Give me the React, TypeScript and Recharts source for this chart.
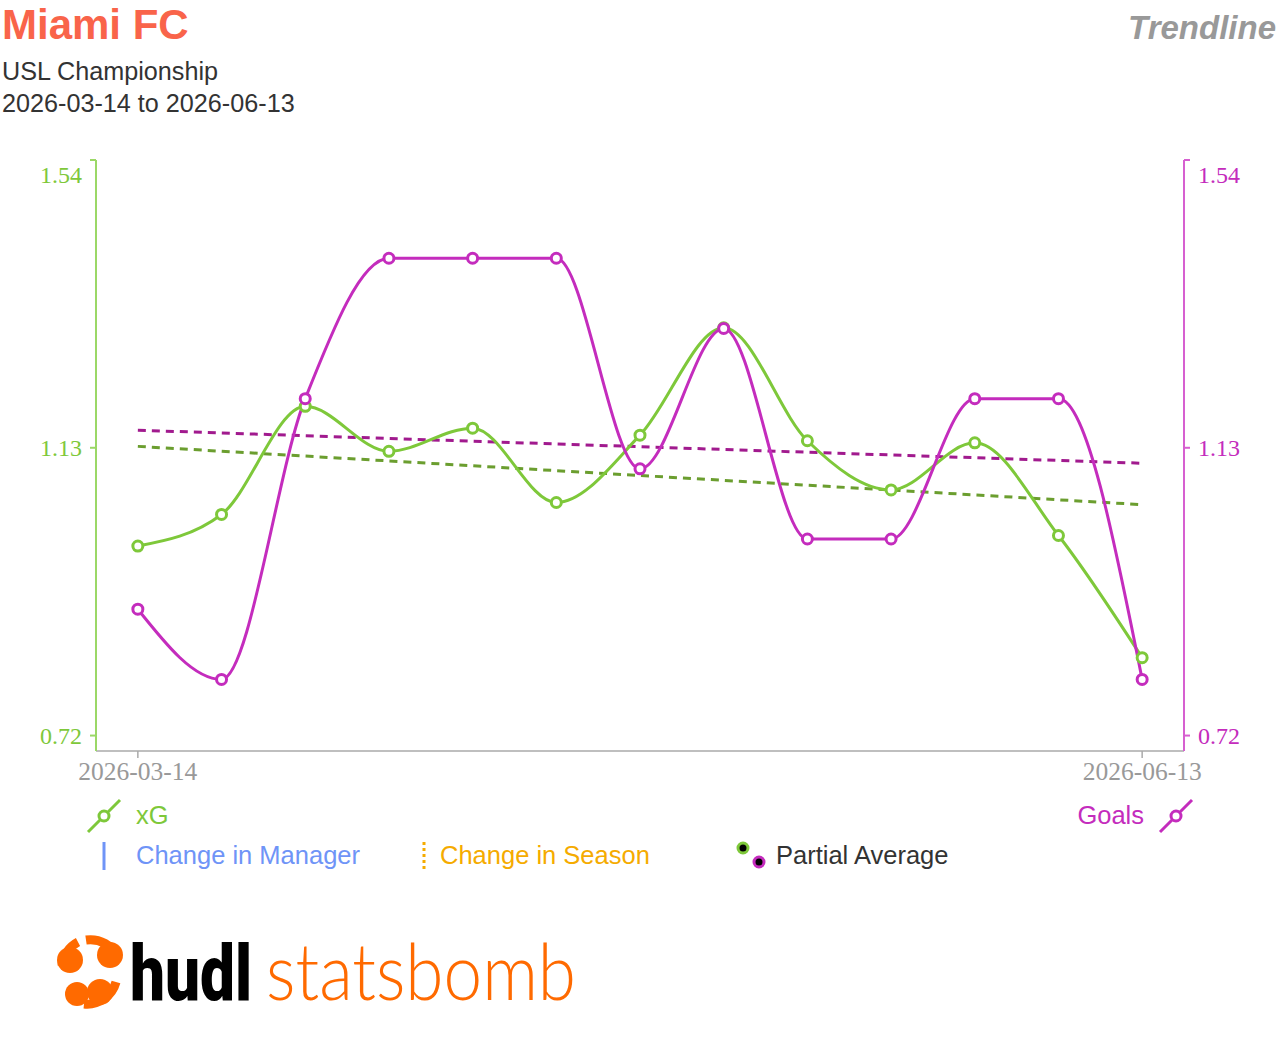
import React from 'react';
import { LineChart, Line, XAxis, YAxis } from 'recharts';

const MATCH_INDEX = [0, 1, 2, 3, 4, 5, 6, 7, 8, 9, 10, 11, 12];
const XG = [0.99, 1.035, 1.189, 1.125, 1.158, 1.052, 1.148, 1.301, 1.14, 1.07, 1.137, 1.005, 0.831];
const GOALS = [0.9, 0.8, 1.2, 1.4, 1.4, 1.4, 1.1, 1.3, 1.0, 1.0, 1.2, 1.2, 0.8];

const TREND_X = [0, 12];
const XG_TREND = [1.132, 1.049];
const GOALS_TREND = [1.155, 1.108];

const X_TICKS = [0, 12];
const X_LABELS = ['2026-03-14', '2026-06-13'];
const Y_TICKS = [0.72, 1.13, 1.54];

const GREEN = '#7ec83a';
const GREEN_TREND = '#6b9e2f';
const MAGENTA = '#c42cbd';
const MAGENTA_TREND = '#a11a8e';

const data = MATCH_INDEX.map((i, k) => ({ i, xg: XG[k], goals: GOALS[k] }));
const xgTrend = TREND_X.map((i, k) => ({ i, v: XG_TREND[k] }));
const goalsTrend = TREND_X.map((i, k) => ({ i, v: GOALS_TREND[k] }));

const serif = '"Liberation Serif", "Times New Roman", serif';
const sans = '"Liberation Sans", Arial, Helvetica, sans-serif';

const YTick = (props: any) => {
  const { x, y, payload, textAnchor, color } = props;
  // top label sits inside the frame, like the original
  const shift = payload.value === 1.54 ? 14 : 0;
  return (
    <text x={x} y={y + shift} dy="0.355em" textAnchor={textAnchor} fill={color}
      fontFamily={serif} fontSize={24}>
      {payload.value.toFixed(2)}
    </text>
  );
};

const LegendLineIcon = ({ x, y, color }: { x: number; y: number; color: string }) => (
  <svg style={{ position: 'absolute', left: x - 18, top: y - 18 }} width={36} height={36}>
    <line x1={2} y1={34} x2={34} y2={2} stroke={color} strokeWidth={3} />
    <circle cx={18} cy={18} r={5} fill="#fff" stroke={color} strokeWidth={3} />
  </svg>
);

const legendText = (color: string): React.CSSProperties => ({
  position: 'absolute', fontSize: 25.5, color, lineHeight: '30px', whiteSpace: 'nowrap',
});

export default function App() {
  return (
    <div style={{ position: 'absolute', left: 0, top: 0, width: 1280, height: 1040, background: '#fff', fontFamily: sans, overflow: 'hidden' }}>
      <div style={{ position: 'absolute', left: 2, top: 1, fontSize: 42, fontWeight: 700, color: '#f9644a', lineHeight: '48px', whiteSpace: 'nowrap' }}>
        Miami FC
      </div>
      <div style={{ position: 'absolute', right: 4, top: 8, fontSize: 33, fontWeight: 700, fontStyle: 'italic', color: '#999', lineHeight: '40px', whiteSpace: 'nowrap' }}>
        Trendline
      </div>
      <div style={{ position: 'absolute', left: 2, top: 55, fontSize: 25.2, color: '#333', lineHeight: '32px', whiteSpace: 'nowrap' }}>
        USL Championship
        <br />
        2026-03-14 to 2026-06-13
      </div>

      <div style={{ position: 'absolute', left: 0, top: 0 }}>
        <LineChart width={1280} height={800} data={data} margin={{ top: 160, right: 0, bottom: 0, left: 0 }}>
          <XAxis
            dataKey="i"
            type="number"
            domain={[-0.5, 12.5]}
            ticks={X_TICKS}
            tickFormatter={(v: number) => X_LABELS[X_TICKS.indexOf(v)]}
            height={49}
            axisLine={{ stroke: '#aaa', strokeWidth: 1.5 }}
            tickLine={{ stroke: '#aaa', strokeWidth: 1.5 }}
            tickSize={7}
            tickMargin={4}
            tick={{ fill: '#999', fontFamily: serif, fontSize: 25.5 }}
            allowDataOverflow
          />
          <YAxis
            yAxisId="left"
            orientation="left"
            width={96}
            domain={[0.698, 1.54]}
            ticks={Y_TICKS}
            allowDataOverflow
            axisLine={{ stroke: '#9bd867', strokeWidth: 2 }}
            tickLine={{ stroke: '#9bd867', strokeWidth: 2 }}
            tickSize={6}
            tickMargin={8}
            tick={<YTick color={GREEN} />}
          />
          <YAxis
            yAxisId="right"
            orientation="right"
            width={96}
            domain={[0.698, 1.54]}
            ticks={Y_TICKS}
            allowDataOverflow
            axisLine={{ stroke: '#d660d0', strokeWidth: 2 }}
            tickLine={{ stroke: '#d660d0', strokeWidth: 2 }}
            tickSize={6}
            tickMargin={8}
            tick={<YTick color={MAGENTA} />}
          />
          <Line yAxisId="left" data={xgTrend} dataKey="v" type="linear" stroke={GREEN_TREND}
            strokeWidth={3} strokeDasharray="8 6" dot={false} activeDot={false} isAnimationActive={false} />
          <Line yAxisId="right" data={goalsTrend} dataKey="v" type="linear" stroke={MAGENTA_TREND}
            strokeWidth={3} strokeDasharray="8 6" dot={false} activeDot={false} isAnimationActive={false} />
          <Line yAxisId="left" dataKey="xg" type="monotone" stroke={GREEN} strokeWidth={3}
            dot={{ r: 5, fill: '#fff', stroke: GREEN, strokeWidth: 3 }} isAnimationActive={false} />
          <Line yAxisId="right" dataKey="goals" type="monotone" stroke={MAGENTA} strokeWidth={3}
            dot={{ r: 5, fill: '#fff', stroke: MAGENTA, strokeWidth: 3 }} isAnimationActive={false} />
        </LineChart>
      </div>

      {/* legend */}
      <LegendLineIcon x={104} y={816} color={GREEN} />
      <div style={{ ...legendText(GREEN), left: 136, top: 800 }}>xG</div>
      <div style={{ ...legendText(MAGENTA), right: 1280 - 1144, top: 800 }}>Goals</div>
      <LegendLineIcon x={1176} y={816} color={MAGENTA} />

      <svg style={{ position: 'absolute', left: 0, top: 836 }} width={1280} height={40}>
        <line x1={104} y1={6} x2={104} y2={34} stroke="#6f94f7" strokeWidth={3} />
        <line x1={424} y1={6} x2={424} y2={34} stroke="#f5ab00" strokeWidth={3} strokeDasharray="3 3" />
        <circle cx={743} cy={12} r={5} fill="#000" stroke={GREEN} strokeWidth={3} />
        <circle cx={759} cy={26} r={5} fill="#000" stroke={MAGENTA} strokeWidth={3} />
      </svg>
      <div style={{ ...legendText('#6f94f7'), left: 136, top: 840 }}>Change in Manager</div>
      <div style={{ ...legendText('#f5ab00'), left: 440, top: 840 }}>Change in Season</div>
      <div style={{ ...legendText('#333'), left: 776, top: 840 }}>Partial Average</div>

      {/* logo */}
      <svg style={{ position: 'absolute', left: 0, top: 920 }} width={620} height={110}>
        <g fill="#ff6a00">
          <path d="M62 46 A30 30 0 0 1 78 22" stroke="#ff6a00" strokeWidth={9} fill="none" />
          <path d="M86 20 A30 30 0 0 1 118 38" stroke="#ff6a00" strokeWidth={9} fill="none" />
          <path d="M116 62 A30 30 0 0 1 84 84" stroke="#ff6a00" strokeWidth={9} fill="none" />
          <circle cx={70} cy={40} r={13} />
          <circle cx={110} cy={35} r={13} />
          <circle cx={100} cy={72} r={13} />
          <circle cx={77} cy={74} r={12} />
        </g>
        <text transform="translate(130 80) scale(1 1.32)" x={0} y={0} textLength={122} lengthAdjust="spacingAndGlyphs"
          fontFamily='"Roboto", "Lato", sans-serif' fontWeight={900} fontSize={59} fill="#000">hudl</text>
        <text x={266} y={80} textLength={310} lengthAdjust="spacingAndGlyphs"
          fontFamily='"Lato", "Open Sans", sans-serif' fontWeight={300} fontSize={78} fill="#ff6a00">statsbomb</text>
      </svg>
    </div>
  );
}
